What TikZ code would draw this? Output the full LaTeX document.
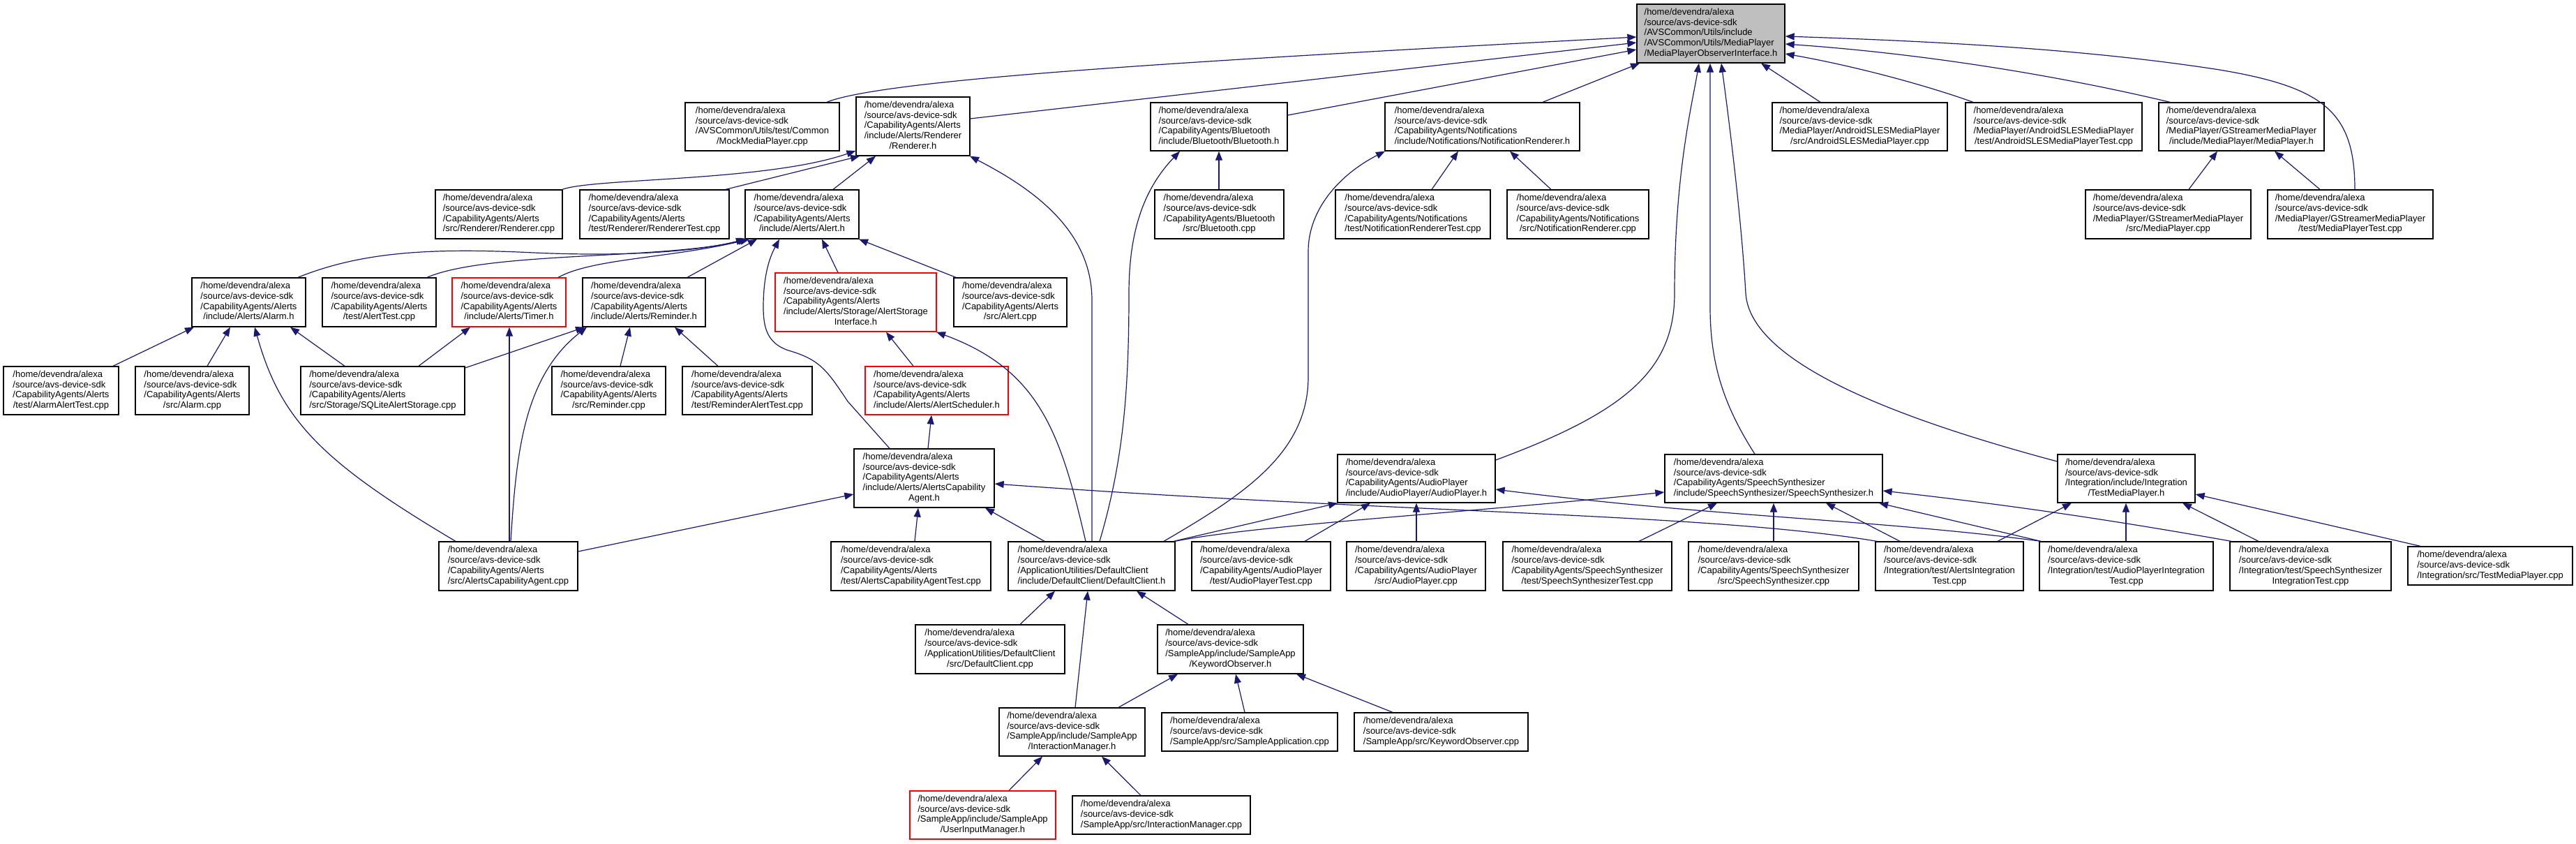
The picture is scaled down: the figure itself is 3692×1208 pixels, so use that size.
\documentclass[tikz,border=0pt]{standalone}
\usepackage{fontspec}
\setmainfont{Liberation Sans}
\usetikzlibrary{arrows.meta,shadows}
\definecolor{mblue}{HTML}{191970}
\definecolor{rootgray}{HTML}{BFBFBF}
\newcommand{\nt}[2]{\begin{tabular}{@{}l@{}}#1\\\multicolumn{1}{@{}c@{}}{#2}\end{tabular}}
\newcommand{\hp}{/home/devendra/alexa\\/source/avs-device-sdk}
\newcommand{\bx}[7]{%
  \pgfmathsetmacro\bxcx{(#3+#5)/2}%
  \pgfmathsetmacro\bxcy{(#4+#6)/2}%
  \pgfmathsetmacro\bxw{#5-#3}%
  \pgfmathsetmacro\bxh{#6-#4}%
  \node[#2, minimum width=\bxw pt, minimum height=\bxh pt] (#1) at (\bxcx,\bxcy) {#7};}
\begin{document}
\begin{tikzpicture}[x=1pt,y=-1pt,
  box/.style={draw=black, line width=1.3pt, fill=white, inner sep=0pt, anchor=center,
    font=\fontsize{13}{14.7}\selectfont,
    drop shadow={shadow xshift=1.2pt, shadow yshift=-1.2pt, fill=black!45, opacity=1}},
  redbox/.style={box, draw=red},
  lnk/.style={draw=mblue, line width=1.2pt, -{Triangle[length=13pt,width=10pt]}}]
\useasboundingbox[fill=white] (0,0) rectangle (3692,1208);

% ---------- nodes ----------
\bx{R}{box, fill=rootgray}{2346}{6}{2558}{90}{\nt{\hp\\/AVSCommon/Utils/include\\/AVSCommon/Utils/MediaPlayer}{/MediaPlayerObserverInterface.h}}

\bx{MMP}{box}{982}{147}{1203}{216}{\nt{\hp\\/AVSCommon/Utils/test/Common}{/MockMediaPlayer.cpp}}
\bx{RH}{box}{1227}{139}{1390}{223}{\nt{\hp\\/CapabilityAgents/Alerts\\/include/Alerts/Renderer}{/Renderer.h}}
\bx{BH}{box}{1649}{147}{1845}{216}{\nt{\hp\\/CapabilityAgents/Bluetooth}{/include/Bluetooth/Bluetooth.h}}
\bx{NRH}{box}{1985}{147}{2264}{216}{\nt{\hp\\/CapabilityAgents/Notifications}{/include/Notifications/NotificationRenderer.h}}
\bx{ASMP}{box}{2540}{147}{2791}{216}{\nt{\hp\\/MediaPlayer/AndroidSLESMediaPlayer}{/src/AndroidSLESMediaPlayer.cpp}}
\bx{ASMPT}{box}{2817}{147}{3070}{216}{\nt{\hp\\/MediaPlayer/AndroidSLESMediaPlayer}{/test/AndroidSLESMediaPlayerTest.cpp}}
\bx{GMPH}{box}{3094}{147}{3331}{216}{\nt{\hp\\/MediaPlayer/GStreamerMediaPlayer}{/include/MediaPlayer/MediaPlayer.h}}

\bx{RCPP}{box}{624}{272}{806}{342}{\nt{\hp\\/CapabilityAgents/Alerts}{/src/Renderer/Renderer.cpp}}
\bx{RTCPP}{box}{831}{272}{1045}{342}{\nt{\hp\\/CapabilityAgents/Alerts}{/test/Renderer/RendererTest.cpp}}
\bx{AH}{box}{1068}{272}{1231}{342}{\nt{\hp\\/CapabilityAgents/Alerts}{/include/Alerts/Alert.h}}
\bx{BCPP}{box}{1655}{272}{1840}{342}{\nt{\hp\\/CapabilityAgents/Bluetooth}{/src/Bluetooth.cpp}}
\bx{NRT}{box}{1914}{272}{2136}{342}{\nt{\hp\\/CapabilityAgents/Notifications}{/test/NotificationRendererTest.cpp}}
\bx{NRCPP}{box}{2160}{272}{2363}{342}{\nt{\hp\\/CapabilityAgents/Notifications}{/src/NotificationRenderer.cpp}}
\bx{GMPCPP}{box}{2989}{272}{3226}{342}{\nt{\hp\\/MediaPlayer/GStreamerMediaPlayer}{/src/MediaPlayer.cpp}}
\bx{GMPT}{box}{3250}{272}{3487}{342}{\nt{\hp\\/MediaPlayer/GStreamerMediaPlayer}{/test/MediaPlayerTest.cpp}}

\bx{ALH}{box}{275}{398}{438}{468}{\nt{\hp\\/CapabilityAgents/Alerts}{/include/Alerts/Alarm.h}}
\bx{ATCPP}{box}{462}{398}{625}{468}{\nt{\hp\\/CapabilityAgents/Alerts}{/test/AlertTest.cpp}}
\bx{TH}{redbox}{648}{398}{811}{468}{\nt{\hp\\/CapabilityAgents/Alerts}{/include/Alerts/Timer.h}}
\bx{REMH}{box}{835}{398}{1011}{468}{\nt{\hp\\/CapabilityAgents/Alerts}{/include/Alerts/Reminder.h}}
\bx{ASI}{redbox}{1111}{391}{1342}{475}{\nt{\hp\\/CapabilityAgents/Alerts\\/include/Alerts/Storage/AlertStorage}{Interface.h}}
\bx{ACPP}{box}{1367}{398}{1529}{468}{\nt{\hp\\/CapabilityAgents/Alerts}{/src/Alert.cpp}}

\bx{AAT}{box}{5}{525}{170}{594}{\nt{\hp\\/CapabilityAgents/Alerts}{/test/AlarmAlertTest.cpp}}
\bx{ALCPP}{box}{194}{525}{357}{594}{\nt{\hp\\/CapabilityAgents/Alerts}{/src/Alarm.cpp}}
\bx{SQL}{box}{431}{525}{666}{594}{\nt{\hp\\/CapabilityAgents/Alerts}{/src/Storage/SQLiteAlertStorage.cpp}}
\bx{REMCPP}{box}{791}{525}{954}{594}{\nt{\hp\\/CapabilityAgents/Alerts}{/src/Reminder.cpp}}
\bx{RAT}{box}{978}{525}{1164}{594}{\nt{\hp\\/CapabilityAgents/Alerts}{/test/ReminderAlertTest.cpp}}
\bx{ASCH}{redbox}{1240}{525}{1445}{594}{\nt{\hp\\/CapabilityAgents/Alerts}{/include/Alerts/AlertScheduler.h}}

\bx{ACAH}{box}{1224}{643}{1425}{727}{\nt{\hp\\/CapabilityAgents/Alerts\\/include/Alerts/AlertsCapability}{Agent.h}}
\bx{APH}{box}{1917}{651}{2143}{720}{\nt{\hp\\/CapabilityAgents/AudioPlayer}{/include/AudioPlayer/AudioPlayer.h}}
\bx{SSH}{box}{2386}{651}{2698}{720}{\nt{\hp\\/CapabilityAgents/SpeechSynthesizer}{/include/SpeechSynthesizer/SpeechSynthesizer.h}}
\bx{TMPH}{box}{2949}{651}{3146}{720}{\nt{\hp\\/Integration/include/Integration}{/TestMediaPlayer.h}}

\bx{ACACPP}{box}{629}{776}{828}{846}{\nt{\hp\\/CapabilityAgents/Alerts}{/src/AlertsCapabilityAgent.cpp}}
\bx{ACAT}{box}{1191}{776}{1420}{846}{\nt{\hp\\/CapabilityAgents/Alerts}{/test/AlertsCapabilityAgentTest.cpp}}
\bx{DCH}{box}{1445}{776}{1684}{846}{\nt{\hp\\/ApplicationUtilities/DefaultClient}{/include/DefaultClient/DefaultClient.h}}
\bx{APT}{box}{1708}{776}{1907}{846}{\nt{\hp\\/CapabilityAgents/AudioPlayer}{/test/AudioPlayerTest.cpp}}
\bx{APCPP}{box}{1930}{776}{2129}{846}{\nt{\hp\\/CapabilityAgents/AudioPlayer}{/src/AudioPlayer.cpp}}
\bx{SST}{box}{2154}{776}{2396}{846}{\nt{\hp\\/CapabilityAgents/SpeechSynthesizer}{/test/SpeechSynthesizerTest.cpp}}
\bx{SSCPP}{box}{2420}{776}{2664}{846}{\nt{\hp\\/CapabilityAgents/SpeechSynthesizer}{/src/SpeechSynthesizer.cpp}}
\bx{AIT}{box}{2688}{776}{2900}{846}{\nt{\hp\\/Integration/test/AlertsIntegration}{Test.cpp}}
\bx{APIT}{box}{2923}{776}{3172}{846}{\nt{\hp\\/Integration/test/AudioPlayerIntegration}{Test.cpp}}
\bx{SSIT}{box}{3196}{776}{3427}{846}{\nt{\hp\\/Integration/test/SpeechSynthesizer}{IntegrationTest.cpp}}
\bx{TMPCPP}{box}{3451}{783}{3687}{838}{\nt{\hp}{/Integration/src/TestMediaPlayer.cpp}}

\bx{DCCPP}{box}{1312}{895}{1526}{965}{\nt{\hp\\/ApplicationUtilities/DefaultClient}{/src/DefaultClient.cpp}}
\bx{KOH}{box}{1659}{895}{1868}{965}{\nt{\hp\\/SampleApp/include/SampleApp}{/KeywordObserver.h}}
\bx{IMH}{box}{1432}{1014}{1641}{1083}{\nt{\hp\\/SampleApp/include/SampleApp}{/InteractionManager.h}}
\bx{SACPP}{box}{1665}{1021}{1917}{1076}{\nt{\hp}{/SampleApp/src/SampleApplication.cpp}}
\bx{KOCPP}{box}{1941}{1021}{2190}{1076}{\nt{\hp}{/SampleApp/src/KeywordObserver.cpp}}
\bx{UIM}{redbox}{1304}{1133}{1513}{1202}{\nt{\hp\\/SampleApp/include/SampleApp}{/UserInputManager.h}}
\bx{IMCPP}{box}{1537}{1140}{1792}{1195}{\nt{\hp}{/SampleApp/src/InteractionManager.cpp}}

% ---------- edges to root ----------
\draw[lnk] (MMP.north -| 1185,0) .. controls (1270,112) and (1750,85) .. (R.west |- 0,53);
\draw[lnk] (RH.east |- 0,170) -- (R.west |- 0,61);
\draw[lnk] (BH.east |- 0,165) -- (R.west |- 0,71);
\draw[lnk] (NRH.north -| 2211,0) -- (R.south -| 2350,0);
\draw[lnk] (ASMP.north -| 2609,0) -- (R.south -| 2524,0);
\draw[lnk] (ASMPT.north -| 2828,0) .. controls (2760,122) and (2660,95) .. (R.east |- 0,77);
\draw[lnk] (GMPH.north -| 3110,0) .. controls (3000,120) and (2800,80) .. (R.east |- 0,63);
\draw[lnk] (GMPT.north -| 3375,0) .. controls (3375,160) and (3330,125) .. (3181,100) .. controls (3000,72) and (2800,60) .. (R.east |- 0,52);
\draw[lnk] (APH.east |- 0,659) .. controls (2330,590) and (2400,530) .. (2400,420) .. controls (2400,250) and (2425,150) .. (R.south -| 2435,0);
\draw[lnk] (SSH.north -| 2515,0) .. controls (2470,580) and (2451,520) .. (2451,440) -- (R.south -| 2451,0);
\draw[lnk] (TMPH.west |- 0,661) .. controls (2720,600) and (2508,520) .. (2502,420) .. controls (2495,300) and (2475,150) .. (R.south -| 2467,0);

% ---------- Renderer.h ----------
\draw[lnk] (RCPP.north -| 806,0) .. controls (850,255) and (1100,260) .. (RH.west |- 0,216);
\draw[lnk] (RTCPP.north -| 1040,0) -- (RH.south -| 1232,0);
\draw[lnk] (AH.north -| 1194,0) -- (RH.south -| 1255,0);
\draw[lnk] (DCH.north -| 1565,0) -- (1565,430) .. controls (1565,330) and (1480,270) .. (RH.south -| 1390,0);

% ---------- Alert.h ----------
\draw[lnk] (ALH.north -| 427,0) .. controls (520,360) and (620,355) .. (765,362) .. controls (900,368) and (1000,360) .. (AH.south -| 1068,0);
\draw[lnk] (ATCPP.north -| 612,0) .. controls (700,360) and (950,372) .. (AH.south -| 1071,0);
\draw[lnk] (TH.north -| 800,0) .. controls (850,370) and (960,370) .. (AH.south -| 1074,0);
\draw[lnk] (REMH.north -| 985,0) -- (AH.south -| 1085,0);
\draw[lnk] (ASI.north -| 1201,0) -- (AH.south -| 1178,0);
\draw[lnk] (ACPP.north -| 1370,0) -- (AH.south -| 1231,0);
\draw[lnk] (ACAH.north -| 1275,0) -- (1215,575) .. controls (1185,530) and (1175,515) .. (1130,502) .. controls (1100,492) and (1094,470) .. (1094,440) .. controls (1094,390) and (1105,365) .. (AH.south -| 1117,0);

% ---------- Alarm.h / Timer.h / Reminder.h ----------
\draw[lnk] (AAT.north -| 162,0) -- (ALH.south -| 278,0);
\draw[lnk] (ALCPP.north -| 297,0) -- (ALH.south -| 330,0);
\draw[lnk] (SQL.north -| 494,0) -- (ALH.south -| 416,0);
\draw[lnk] (ACACPP.north -| 653,0) .. controls (460,661) and (402,601) .. (ALH.south -| 365,0);
\draw[lnk] (SQL.north -| 600,0) -- (TH.south -| 674,0);
\draw[lnk] (ACACPP.north -| 730,0) -- (TH.south -| 730,0);
\draw[lnk] (SQL.east |- 0,527) -- (REMH.south -| 838,0);
\draw[lnk] (ACACPP.north -| 732,0) .. controls (740,650) and (750,540) .. (REMH.south -| 841,0);
\draw[lnk] (REMCPP.north -| 889,0) -- (REMH.south -| 903,0);
\draw[lnk] (RAT.north -| 1029,0) -- (REMH.south -| 967,0);

% ---------- storage / scheduler / capability agent ----------
\draw[lnk] (ASCH.north -| 1309,0) -- (ASI.south -| 1270,0);
\draw[lnk] (DCH.north -| 1556,0) .. controls (1520,620) and (1490,530) .. (ASI.south -| 1342,0);
\draw[lnk] (ACAH.north -| 1330,0) -- (ASCH.south -| 1335,0);
\draw[lnk] (ACACPP.east |- 0,790) -- (ACAH.west |- 0,708);
\draw[lnk] (ACAT.north -| 1311,0) -- (ACAH.south -| 1316,0);
\draw[lnk] (DCH.north -| 1497,0) -- (ACAH.south -| 1412,0);
\draw[lnk] (AIT.north -| 2690,0) .. controls (2450,735) and (2000,735) .. (ACAH.east |- 0,693);

% ---------- AudioPlayer.h ----------
\draw[lnk] (DCH.north -| 1682,0) -- (APH.south -| 1917,0);
\draw[lnk] (APT.north -| 1870,0) -- (APH.south -| 1964,0);
\draw[lnk] (APCPP.north -| 2030,0) -- (APH.south -| 2030,0);
\draw[lnk] (APIT.north -| 2925,0) .. controls (2700,745) and (2450,740) .. (APH.east |- 0,701);

% ---------- SpeechSynthesizer.h ----------
\draw[lnk] (DCH.north -| 1684,0) .. controls (1800,752) and (2100,735) .. (SSH.west |- 0,705);
\draw[lnk] (SST.north -| 2349,0) -- (SSH.south -| 2461,0);
\draw[lnk] (SSCPP.north -| 2542,0) -- (SSH.south -| 2542,0);
\draw[lnk] (AIT.north -| 2723,0) -- (SSH.south -| 2617,0);
\draw[lnk] (APIT.north -| 2925,0) -- (SSH.south -| 2693,0);
\draw[lnk] (SSIT.north -| 3198,0) .. controls (3000,740) and (2850,720) .. (SSH.east |- 0,703);

% ---------- TestMediaPlayer.h ----------
\draw[lnk] (AIT.north -| 2863,0) -- (TMPH.south -| 2969,0);
\draw[lnk] (APIT.north -| 3047,0) -- (TMPH.south -| 3047,0);
\draw[lnk] (SSIT.north -| 3237,0) -- (TMPH.south -| 3128,0);
\draw[lnk] (TMPCPP.north -| 3469,0) -- (TMPH.east |- 0,708);

% ---------- DefaultClient / SampleApp ----------
\draw[lnk] (DCCPP.north -| 1462,0) -- (DCH.south -| 1512,0);
\draw[lnk] (IMH.north -| 1541,0) -- (DCH.south -| 1559,0);
\draw[lnk] (KOH.north -| 1703,0) -- (DCH.south -| 1629,0);
\draw[lnk] (IMH.north -| 1603,0) -- (KOH.south -| 1688,0);
\draw[lnk] (SACPP.north -| 1784,0) -- (KOH.south -| 1771,0);
\draw[lnk] (KOCPP.north -| 1996,0) -- (KOH.south -| 1858,0);
\draw[lnk] (UIM.north -| 1446,0) -- (IMH.south -| 1494,0);
\draw[lnk] (IMCPP.north -| 1635,0) -- (IMH.south -| 1579,0);

% ---------- Bluetooth / Notifications / GStreamer ----------
\draw[lnk] (BCPP.north -| 1747,0) -- (BH.south -| 1747,0);
\draw[lnk] (DCH.north -| 1576,0) .. controls (1610,660) and (1618,560) .. (1618,420) .. controls (1618,330) and (1640,270) .. (BH.south -| 1691,0);
\draw[lnk] (NRT.north -| 2052,0) -- (NRH.south -| 2090,0);
\draw[lnk] (NRCPP.north -| 2223,0) -- (NRH.south -| 2164,0);
\draw[lnk] (DCH.north -| 1668,0) .. controls (1780,710) and (1875,650) .. (1875,540) -- (1875,360) .. controls (1875,300) and (1920,250) .. (NRH.south -| 1985,0);
\draw[lnk] (GMPCPP.north -| 3137,0) -- (GMPH.south -| 3178,0);
\draw[lnk] (GMPT.north -| 3325,0) -- (GMPH.south -| 3260,0);
\end{tikzpicture}
\end{document}
